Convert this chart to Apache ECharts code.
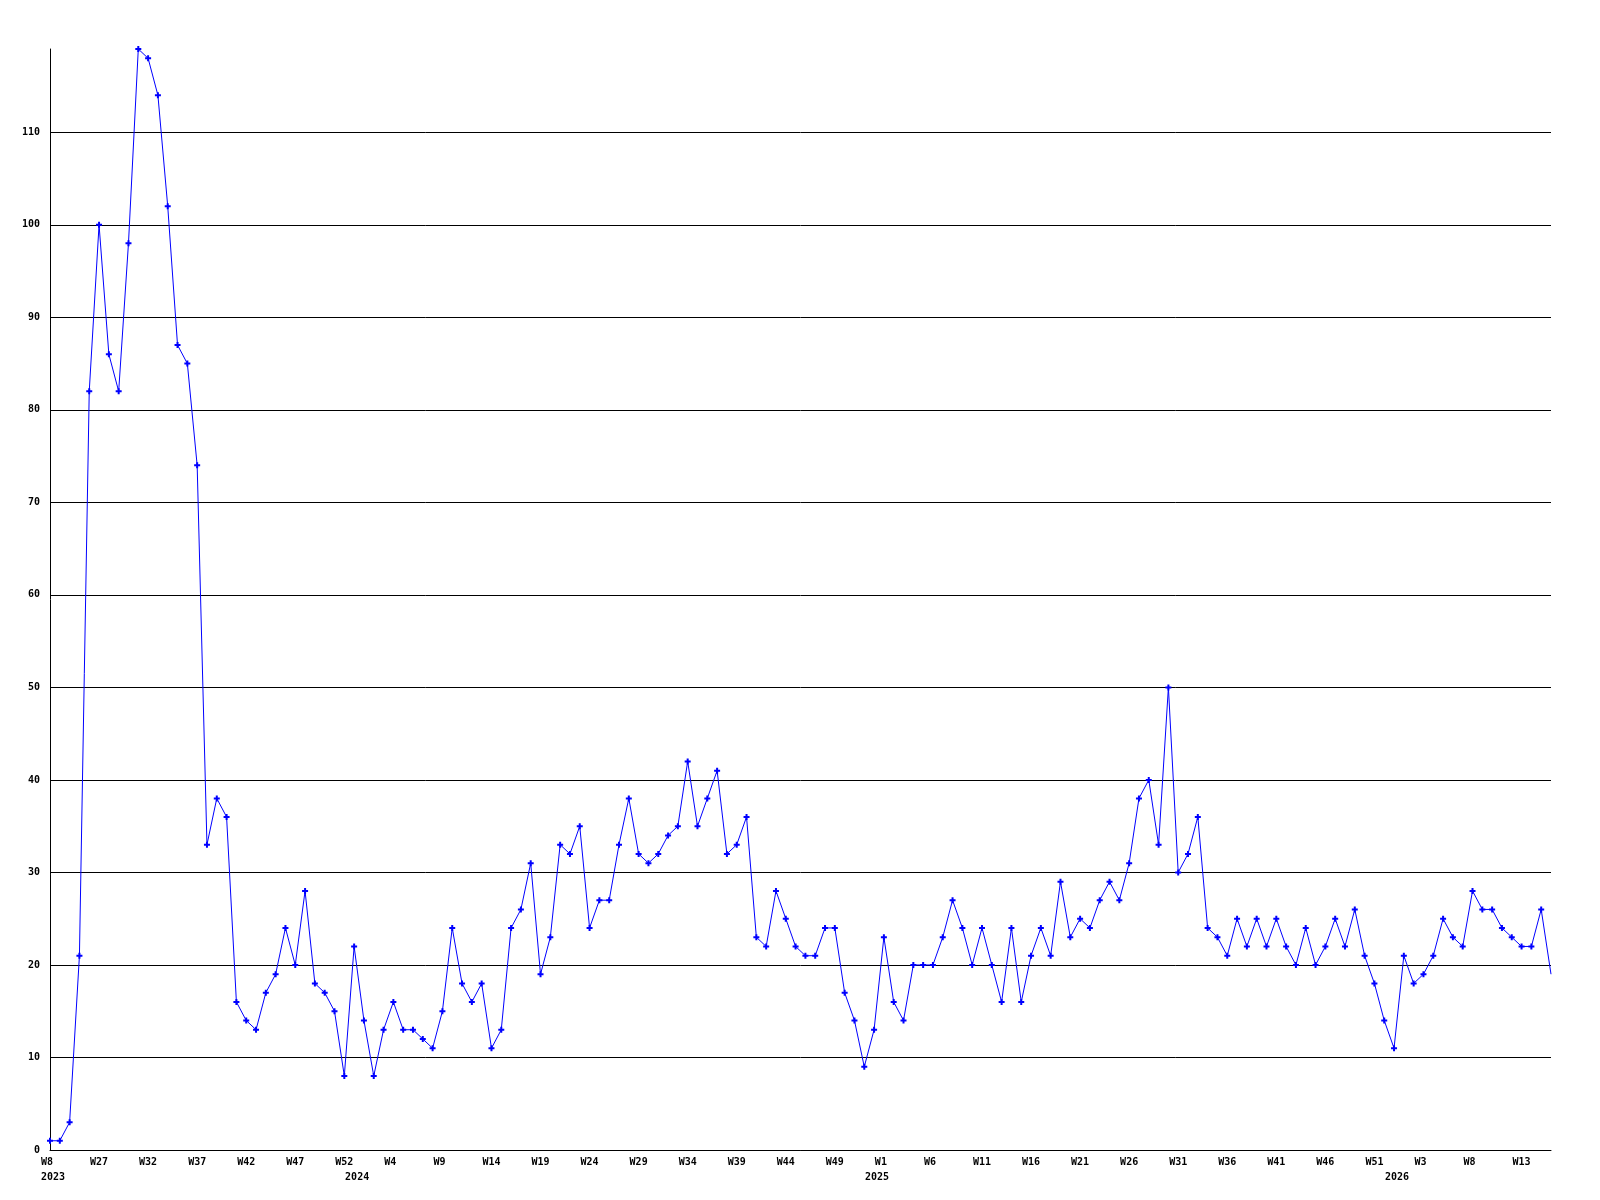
<!DOCTYPE html>
<html>
<head>
<meta charset="utf-8">
<script src="https://cdn.jsdelivr.net/npm/echarts@6/dist/echarts.min.js"></script>
<style>
  html, body { margin: 0; background: #fff; }
  #chart { width: 1600px; height: 1200px; }
</style>
</head>
<body>
<div id="chart"></div>
<script>
  // weekly counts, one per point
  const counts = [
    1, 1, 3, 21, 82, 100, 86, 82, 98, 119, 118, 114, 102, 87, 85, 74, 33, 38, 36, 16, 14, 13,
    17, 19, 24, 20, 28, 18, 17, 15, 8, 22, 14, 8, 13, 16, 13, 13, 12, 11, 15, 24, 18, 16, 18, 11, 13,
    24, 26, 31, 19, 23, 33, 32, 35, 24, 27, 27, 33, 38, 32, 31, 32, 34, 35, 42, 35, 38, 41, 32, 33, 36, 23,
    22, 28, 25, 22, 21, 21, 24, 24, 17, 14, 9, 13, 23, 16, 14, 20, 20, 20, 23, 27, 24, 20, 24, 20, 16, 24,
    16, 21, 24, 21, 29, 23, 25, 24, 27, 29, 27, 31, 38, 40, 33, 50, 30, 32, 36, 24, 23, 21, 25, 22, 25,
    22, 25, 22, 20, 24, 20, 22, 25, 22, 26, 21, 18, 14, 11, 21, 18, 19, 21, 25, 23, 22, 28, 26, 26, 24, 23, 22, 22, 26, 19
  ]
  // a week label on every 5th point
  const weekLabels = ['W8', 'W27', 'W32', 'W37', 'W42', 'W47', 'W52', 'W4', 'W9', 'W14', 'W19', 'W24',
    'W29', 'W34', 'W39', 'W44', 'W49', 'W1', 'W6', 'W11', 'W16', 'W21', 'W26', 'W31', 'W36', 'W41',
    'W46', 'W51', 'W3', 'W8', 'W13']
  const yearLabels = ['2023', '2024', '2025', '2026']
  const yearAt = [0, 31, 84, 137]

  const categories = counts.map((v, i) => String(i))

  const font = {
    fontFamily: 'DejaVu Sans Mono',
    fontWeight: 'bold',
    fontSize: 10,
    color: '#000',
  }

  // last point sits on the right edge, no marker drawn there
  const seriesData = counts.map((v, i) =>
    i === counts.length - 1 ? { value: v, symbol: 'none' } : v)

  const chart = echarts.init(document.getElementById('chart'))
  chart.setOption({
    animation: false,
    backgroundColor: '#fff',
    grid: { left: 50, right: 49, top: 49, bottom: 50 },
    xAxis: [
      {
        type: 'category',
        data: categories,
        boundaryGap: false,
        axisLine: { lineStyle: { color: '#000', width: 1 } },
        axisTick: { show: false },
        splitLine: { show: false },
        axisLabel: Object.assign({
          margin: 7,
          interval: (i) => i % 5 === 0,
          // pad to 3 chars so short labels start at the same spot
          formatter: (v, i) => (weekLabels[i / 5] + '   ').slice(0, 3),
        }, font),
      },
      {
        type: 'category',
        data: categories,
        boundaryGap: false,
        position: 'bottom',
        offset: 15,
        axisLine: { show: false },
        axisTick: { show: false },
        splitLine: { show: false },
        axisLabel: Object.assign({
          margin: 7,
          interval: (i) => yearAt.indexOf(i) >= 0,
          formatter: (v, i) => ' ' + yearLabels[yearAt.indexOf(i)],
        }, font),
      },
    ],
    yAxis: {
      type: 'value',
      min: 0,
      max: 119,
      interval: 10,
      axisLine: { show: true, lineStyle: { color: '#000', width: 1 } },
      axisTick: { show: false },
      splitLine: { show: true, showMaxLine: false, lineStyle: { color: '#000', width: 1 } },
      axisLabel: Object.assign({ margin: 10, showMaxLabel: false }, font),
    },
    series: [
      {
        type: 'line',
        data: seriesData,
        xAxisIndex: 0,
        showAllSymbol: true,
        symbol: 'path://M1,0H2V1H3V2H2V3H1V2H0V1H1Z',
        symbolSize: 6,
        itemStyle: { color: '#0000ff' },
        lineStyle: { color: '#0000ff', width: 1 },
      },
    ],
  })
</script>
</body>
</html>
